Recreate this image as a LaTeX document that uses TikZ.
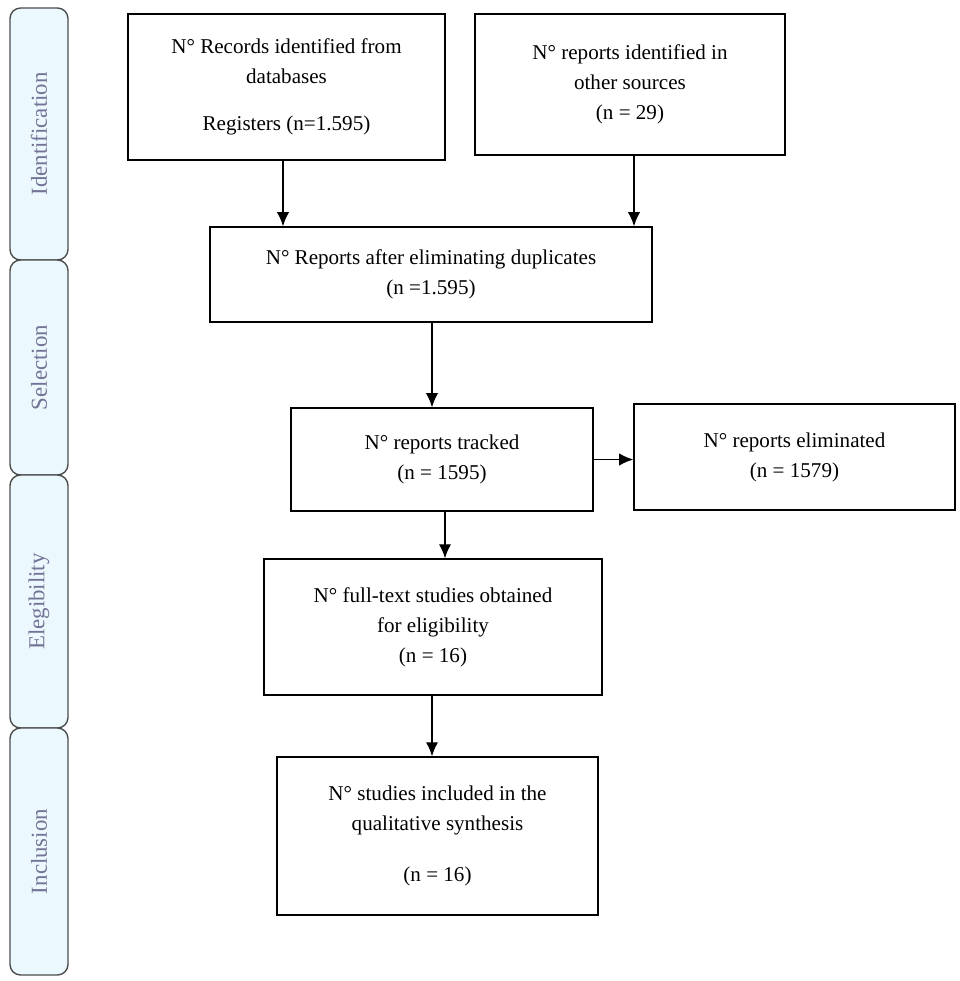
\documentclass[tikz,border=0pt]{standalone}
\usepackage{fontspec}
\setmainfont{Liberation Serif}
\usetikzlibrary{calc,arrows.meta}

\tikzset{
  stepbox/.style={draw,thick,align=center,inner sep=2pt,font=\fontsize{12}{17}\selectfont},
  phase/.style={draw=black!70,fill=cyan!8,rounded corners=6pt,thick},
  phasetext/.style={rotate=90,text=blue!25!black!55,font=\fontsize{13}{15}\selectfont},
  flow/.style={thick,-{Latex[length=8pt,width=7pt]}}
}

\begin{document}
\begin{tikzpicture}[x=0.02cm,y=-0.02cm]
\useasboundingbox (0,0) rectangle (960,981);

% phase bars
\foreach \ya/\yb/\lbl in {8/260/Identification, 260/475/Selection, 475/728/Elegibility, 728/975/Inclusion}
  {
  \draw[phase] (10,\ya) rectangle (68,\yb);
  \node[phasetext] at (39,{(\ya+\yb)/2}) {\lbl};
  }

% boxes
\node[stepbox,minimum width=317*0.02cm,minimum height=146*0.02cm] (rec) at (286.5,87)
  {N° Records identified from\\databases\\[10pt]Registers (n=1.595)};
\node[stepbox,minimum width=310*0.02cm,minimum height=141*0.02cm] (oth) at (630,84.5)
  {N° reports identified in\\other sources\\(n = 29)};
\node[stepbox,minimum width=442*0.02cm,minimum height=95*0.02cm] (dup) at (431,274.5)
  {N° Reports after eliminating duplicates\\(n =1.595)};
\node[stepbox,minimum width=302*0.02cm,minimum height=103*0.02cm] (trk) at (442,459.5)
  {N° reports tracked\\(n = 1595)};
\node[stepbox,minimum width=321*0.02cm,minimum height=106*0.02cm] (elim) at (794.5,457)
  {N° reports eliminated\\(n = 1579)};
\node[stepbox,minimum width=338*0.02cm,minimum height=136*0.02cm] (full) at (433,627)
  {N° full-text studies obtained\\for eligibility\\(n = 16)};
\node[stepbox,minimum width=321*0.02cm,minimum height=158*0.02cm] (incl) at (437.5,836)
  {N° studies included in the\\qualitative synthesis\\[12pt](n = 16)};

% connectors
\coordinate (ca) at (283,0);
\coordinate (cb) at (634,0);
\coordinate (cc) at (432,0);
\coordinate (cd) at (445,0);
\draw[flow] (rec.south -| ca) -- (dup.north -| ca);
\draw[flow] (oth.south -| cb) -- (dup.north -| cb);
\draw[flow] (dup.south -| cc) -- (trk.north -| cc);
\draw[flow] (trk.south -| cd) -- (full.north -| cd);
\draw[flow] (trk.east) -- (trk.east -| elim.west);
\draw[flow] (full.south -| cc) -- (incl.north -| cc);
\end{tikzpicture}
\end{document}
